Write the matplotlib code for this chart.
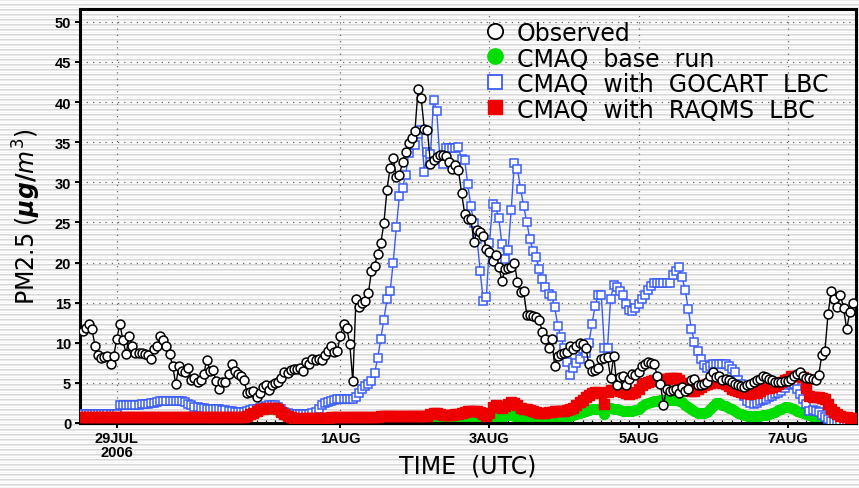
import numpy as np
import matplotlib
matplotlib.use('Agg')
import matplotlib.pyplot as plt
from matplotlib.ticker import MultipleLocator

# ---------------- data (hours since 29 JUL 2006 00 UTC) ----------------
obs_start = -11
observed = [
    11.5, 11.9, 12.3, 11.7, 9.6, 8.5, 8.1, 8.2, 8.3, 7.4, 8.3,
    10.5, 12.3, 10.3, 8.6, 10.9, 9.6, 8.7, 8.7, 8.7, 8.6, 8.5, 8.0,
    9.2, 9.6, 10.8, 10.3, 9.6, 8.6, 7.1, 4.8, 7.1, 6.5, 6.4, 6.8,
    5.4, 5.6, 5.1, 5.3, 6.1, 7.9, 6.5, 6.6, 5.2, 4.3, 5.1, 5.1,
    6.1, 7.3, 6.5, 6.1, 5.8, 5.3, 3.7, 3.9, 4.0, 3.2, 3.8, 4.5,
    4.7, 4.1, 4.7, 5.0, 5.1, 5.6, 6.3, 6.2, 6.6, 6.7, 6.7, 6.8,
    6.5, 7.6, 7.4, 8.0, 7.8, 8.0, 7.9, 8.5, 9.0, 9.6, 8.9, 9.0,
    10.9, 12.3, 11.9, 9.9, 5.2, 15.4, 14.5, 15.0, 15.2, 16.2, 18.9, 19.6,
    21.1, 22.4, 24.9, 29.1, 31.8, 33.0, 30.6, 30.9, 32.5, 33.8, 34.9, 35.5,
    36.4, 41.6, 40.5, 36.7, 36.5, 32.3, 32.8, 33.1, 33.4, 33.4, 33.3, 32.5,
    31.7, 32.1, 31.5, 28.7, 26.1, 25.4, 25.4, 22.6, 24.0, 23.8, 23.3, 21.7,
    21.3, 20.2, 20.9, 19.5, 17.7, 19.2, 19.3, 19.5, 20.0, 17.6, 16.3, 16.4,
    13.5, 13.4, 13.3, 13.2, 12.8, 11.4, 10.5, 9.3, 10.5, 7.1, 8.4, 8.6,
    8.7, 8.9, 9.6, 9.2, 9.6, 10.0, 9.9, 9.4, 7.3, 6.5, 6.6, 6.9,
    8.0, 8.1, 8.2, 5.6, 8.4, 4.7, 5.7, 5.8, 4.7, 5.5, 6.1, 6.0,
    6.4, 7.1, 7.4, 7.6, 7.5, 7.4, 5.9, 4.9, 2.3, 4.2, 4.0, 4.1,
    4.2, 3.8, 4.5, 4.0, 4.2, 5.3, 5.5, 4.7, 4.7, 4.9, 5.1, 5.9,
    6.3, 5.7, 5.9, 5.3, 5.5, 5.3, 5.1, 4.9, 4.7, 4.6, 4.5, 4.7,
    4.9, 5.1, 5.3, 5.5, 5.9, 5.7, 5.5, 5.3, 5.1, 5.1, 5.1, 5.2,
    5.2, 5.5, 5.8, 6.1, 6.3, 5.9, 5.6, 5.6, 5.5, 5.3, 6.0, 8.5,
    9.0, 13.6, 16.4, 15.5, 14.4, 16.0, 14.3, 11.7, 13.8, 15.0,
]

model_start = -12
base_run = [
    0.5, 0.5, 0.5, 0.5, 0.5, 0.5, 0.5, 0.5, 0.5, 0.5, 0.5, 0.5,
    0.5, 0.5, 0.5, 0.5, 0.5, 0.5, 0.5, 0.5, 0.5, 0.5, 0.5, 0.5,
    0.5, 0.5, 0.5, 0.5, 0.5, 0.5, 0.5, 0.5, 0.5, 0.5, 0.5, 0.5,
    0.5, 0.5, 0.5, 0.5, 0.5, 0.5, 0.5, 0.5, 0.5, 0.5, 0.5, 0.5,
    0.5, 0.5, 0.5, 0.5, 0.5,
    0.6, 0.8, 1.0, 1.2, 1.4, 1.6, 1.7, 1.8, 1.8, 1.8, 1.8, 1.6, 1.3, 1.0, 0.8, 0.6, 0.5,
    0.4, 0.4, 0.4, 0.4, 0.4, 0.4, 0.4, 0.4, 0.4, 0.4, 0.4, 0.4,
    0.4, 0.4, 0.4, 0.4, 0.4, 0.4, 0.4, 0.4, 0.4, 0.4, 0.4, 0.4,
    0.4, 0.4, 0.4, 0.4, 0.4, 0.4, 0.4, 0.4, 0.4, 0.4, 0.4, 0.4,
    0.4, 0.4, 0.4, 0.4, 0.4, 0.4,
    0.3, 0.3, 0.3, 0.3, 0.3, 0.3, 0.3, 0.3, 0.3, 0.3, 0.3,
    0.4, 0.4, 0.5, 0.5, 0.5, 0.5, 0.5, 0.5, 0.6, 0.7,
    0.8, 0.9, 0.9, 0.9, 0.9, 1.0, 1.0, 0.9, 0.9, 0.8, 0.8, 0.8, 0.8,
    0.7, 0.7, 0.7, 0.7, 0.7, 0.7, 0.7, 0.7, 0.8, 0.8, 0.8, 0.8, 0.9,
    1.0, 1.1, 1.3, 1.4, 1.5, 1.6, 1.7, 1.8, 1.8, 1.8,
    1.1,
    1.9, 1.9, 1.8, 1.7, 1.6, 1.5, 1.5, 1.5, 1.5, 1.6, 1.8, 2.1,
    2.4, 2.5, 2.6, 2.7, 2.8, 2.9, 2.9, 2.9, 2.9, 2.9, 2.9, 2.8, 2.6, 2.3, 2.0, 1.75, 1.5,
    1.3, 1.3, 1.3, 1.4, 1.7, 2.1, 2.5, 2.5, 2.3, 2.1, 1.9, 1.75, 1.5,
    1.3, 1.1, 1.0, 0.9, 0.9, 0.9, 0.9, 0.9, 1.0, 1.0, 1.1, 1.2, 1.4,
    1.6, 1.8, 2.0, 2.0, 1.9, 1.7, 1.5, 1.4, 1.3, 1.1, 1.0, 0.8, 0.6, 0.5,
    0.4, 0.3, 0.3, 0.3, 0.3, 0.3, 0.3, 0.3, 0.3, 0.3, 0.3,
]

gocart_lbc = [
    1.1, 1.1, 1.1, 1.1, 1.1, 1.1, 1.1, 1.1, 1.1, 1.1, 1.1, 1.1, 1.1,
    2.2, 2.3, 2.3, 2.3, 2.3, 2.3, 2.3, 2.4, 2.4, 2.4, 2.5, 2.5,
    2.6, 2.7, 2.7, 2.8, 2.8, 2.8, 2.8, 2.8, 2.7, 2.6, 2.4, 2.2,
    2.0, 2.0, 1.9, 1.9, 1.8, 1.8, 1.8, 1.7, 1.7, 1.6, 1.6, 1.5,
    1.5, 1.4, 1.4, 1.4, 1.4, 1.5, 1.6, 1.7, 1.8, 1.9, 2.0, 2.1,
    2.2, 2.2, 2.2, 2.0, 1.7, 1.4, 1.2, 1.1, 1.1, 1.1, 1.1, 1.1,
    1.1, 1.1, 1.2, 1.4, 1.8, 2.2, 2.5, 2.6, 2.8, 2.9, 3.0, 3.0,
    3.0, 3.0, 3.0, 3.0, 3.3, 3.8, 4.3, 4.6, 4.9, 5.2, 6.2, 8.1,
    10.5, 12.9, 15.4, 16.4, 20.0, 24.4, 28.3, 29.3, 30.9, 33.7, 34.8, 34.6,
    36.0, 36.5, 31.3, 33.8, 33.5, 40.3, 38.9, 33.1, 32.3, 34.3, 34.3, 34.3,
    34.3, 34.4, 32.9, 32.8, 29.8, 27.0, 24.9, 22.9, 18.9, 15.2, 15.7, 22.4,
    27.3, 26.9, 25.5, 22.3, 20.4, 21.6, 26.6, 32.4, 31.7, 29.2, 27.0, 25.1,
    22.9, 21.5, 20.7, 19.2, 17.9, 16.9, 16.1, 15.8, 14.4, 12.1, 10.7, 9.3,
    7.6, 6.0, 6.9, 7.5, 8.0, 9.2, 8.7, 10.0, 12.3, 14.6, 15.9, 15.9,
    9.3, 9.4, 15.5, 17.2, 16.9, 16.5, 15.9, 14.8, 14.1, 13.9, 14.3, 14.8,
    15.5, 16.0, 16.6, 17.1, 17.5, 17.5, 17.5, 17.5, 17.5, 17.5, 18.5, 19.0,
    19.4, 18.2, 16.6, 14.2, 11.7, 10.1, 9.0, 8.0, 7.2, 6.9, 7.1, 7.4,
    7.4, 7.4, 7.4, 7.3, 7.1, 6.7, 6.3, 5.3, 4.9, 3.4, 2.8, 2.5,
    2.4, 2.5, 2.7, 2.9, 3.0, 3.2, 3.4, 3.6, 3.8, 4.0, 4.4, 4.7,
    4.9, 4.9, 4.2, 3.6, 3.0, 2.4, 1.5, 1.6, 1.5, 1.4, 1.0, 0.8,
    0.5, 0.3, 0.1, 0.1, 0.1, 0.1, 0.1, 0.1, 0.1,
]

raqms_lbc = [
    0.7, 0.7, 0.7, 0.7, 0.7, 0.7, 0.7, 0.7, 0.7, 0.7, 0.7, 0.7,
    0.7, 0.7, 0.7, 0.7, 0.7, 0.7, 0.7, 0.7, 0.7, 0.7, 0.7, 0.7,
    0.7, 0.7, 0.7, 0.7, 0.7, 0.7, 0.7, 0.7, 0.7, 0.7, 0.7, 0.7,
    0.7, 0.7, 0.7, 0.7, 0.7, 0.7, 0.7, 0.7, 0.7, 0.7, 0.7, 0.7,
    0.7, 0.7, 0.7, 0.7, 0.7,
    0.8, 0.9, 1.1, 1.3, 1.5, 1.7, 1.8, 1.9, 1.9, 1.9, 1.9, 1.7, 1.4, 1.1, 0.9, 0.7, 0.6,
    0.55, 0.55, 0.6, 0.6, 0.6, 0.6, 0.6, 0.6, 0.65, 0.65, 0.65, 0.7, 0.7, 0.7,
    0.7, 0.75, 0.75, 0.75, 0.75, 0.8, 0.8, 0.8, 0.8, 0.8, 0.8, 0.8, 0.8,
    0.85, 0.85, 0.85, 0.85, 0.85, 0.85, 0.85, 0.85, 0.85, 0.85, 0.85, 0.85, 0.85, 0.85, 0.85,
    0.9,
    1.1, 1.3, 1.3, 1.1, 1.0, 1.0, 1.0, 1.05, 1.1, 1.1, 1.3, 1.4,
    1.5, 1.5, 1.5, 1.5, 1.4, 1.1, 0.9, 1.3, 2.0, 2.2, 2.0, 1.9,
    2.1, 2.4, 2.6, 2.5, 2.2, 1.9, 1.75, 1.7, 1.6, 1.5, 1.4, 1.3,
    1.3, 1.3, 1.4, 1.4, 1.5, 1.5, 1.5, 1.5, 1.6, 1.7, 1.9, 2.2,
    2.6, 2.9, 3.2, 3.5, 3.8, 3.9, 3.9, 3.8, 2.4, 3.9, 4.1, 4.1,
    4.1, 4.0, 3.9, 3.7, 3.6, 3.7, 3.9, 4.3, 4.7, 5.0, 5.1, 5.2,
    5.3, 5.4, 5.5, 5.5, 5.5, 5.6, 5.6, 5.6, 5.4, 5.0, 4.5, 4.1,
    4.0, 4.0, 4.2, 4.5, 4.7, 4.8, 5.0, 5.1, 5.1, 5.1, 5.0, 4.9,
    4.6, 4.3, 4.1, 4.0, 3.9, 3.8, 3.7, 3.6, 3.7, 3.8, 4.0, 4.2,
    4.4, 4.4, 4.5, 4.6, 4.9, 5.1, 5.3, 5.5, 5.8, 5.9, 5.9, 5.8,
    5.7, 4.4, 3.4, 3.2, 3.2, 3.2, 3.1, 3.0, 2.4, 1.75, 1.4, 1.1,
    0.9, 0.8, 0.7, 0.6, 0.6,
]

tick_hours = [0, 72, 120, 168, 216]
tick_labels = ['29JUL\n2006', '1AUG', '3AUG', '5AUG', '7AUG']
y_ticks = [0, 5, 10, 15, 20, 25, 30, 35, 40, 45, 50]
legend_labels = ['Observed', 'CMAQ  base  run', 'CMAQ  with  GOCART  LBC', 'CMAQ  with  RAQMS  LBC']

# ---------------- figure ----------------
W, H = 859, 489
fig = plt.figure(figsize=(W / 100, H / 100), dpi=100, facecolor='white')

# striped background (as in the source image)
bg = fig.add_axes([0, 0, 1, 1], zorder=-10)
pattern = np.array([0.84, 0.91, 1.0, 0.96, 1.0])
stripes = np.tile(pattern, H // len(pattern) + 1)[:H]
bg.imshow(stripes[:, None], cmap='gray', vmin=0, vmax=1, aspect='auto',
          interpolation='nearest', extent=[0, 1, 0, 1])
bg.axis('off')

ax = fig.add_axes([79.5 / W, (H - 424) / H, 776.5 / W, 414 / H])
ax.set_facecolor('none')

h_obs = obs_start + np.arange(len(observed))
h_base = model_start + np.arange(len(base_run))
h_goc = model_start + np.arange(len(gocart_lbc))
h_raq = model_start + np.arange(len(raqms_lbc))

green = '#00dd00'
blue = '#3a5cf5'
red = '#ee0000'

ax.plot(h_base, base_run, '-o', color=green, mec=green, mfc=green, ms=7, lw=1, zorder=2)
ax.plot(h_goc, gocart_lbc, '-s', color=blue, mec=blue, mfc='white', ms=5.6, mew=1.1, lw=1, zorder=3)
ax.plot(h_raq, raqms_lbc, '-s', color=red, mec=red, mfc=red, ms=7.4, lw=1, zorder=4)
ax.plot(h_obs, observed, '-o', color='black', mec='black', mfc='white', ms=6.4, mew=1.1, lw=1, zorder=5)

ax.set_xlim(-12, 238)
ax.set_ylim(0, 51.6)
ax.set_yticks(y_ticks)
ax.set_xticks(tick_hours)
ax.set_xticklabels(tick_labels, linespacing=0.95)
ax.xaxis.set_minor_locator(MultipleLocator(3))
for lab in ax.get_xticklabels() + ax.get_yticklabels():
    lab.set_fontfamily('Liberation Sans')
    lab.set_fontweight('bold')
    lab.set_fontsize(10.5)
ax.tick_params(axis='both', which='major', direction='out', length=3.5, width=1.4, pad=2.5, color='black')
ax.tick_params(axis='x', which='minor', direction='in', length=2, width=0.9)
for s in ax.spines.values():
    s.set_linewidth(2.2)
ax.grid(True, which='major', color='#666666', linestyle=(0, (1, 4)), linewidth=0.9)
ax.set_axisbelow(True)

# axis titles
fig.text(468 / W, 1 - 467 / H, 'TIME  (UTC)', ha='center', va='center', fontsize=17,
         family='DejaVu Sans')
fig.text(27 / W, 1 - 217 / H, r'PM2.5 ($\boldsymbol{\mu g/m^3}$)', ha='center', va='center',
         rotation=90, fontsize=17, family='DejaVu Sans')

# legend (manual, no frame)
styles = [
    dict(marker='o', mfc='white', mec='black', ms=11, mew=1.3),
    dict(marker='o', mfc=green, mec=green, ms=11),
    dict(marker='s', mfc='white', mec=blue, ms=10.5, mew=1.3),
    dict(marker='s', mfc=red, mec=red, ms=10.5),
]
row_y = [0.9476, 0.8857, 0.8244, 0.7626]
for lab, st, yy in zip(legend_labels, styles, row_y):
    ax.plot([0.5351], [yy], linestyle='none', transform=ax.transAxes, clip_on=False, zorder=6, **st)
    ax.text(0.5634, yy, lab, transform=ax.transAxes, ha='left', va='center_baseline',
            fontsize=17, family='DejaVu Sans', zorder=6)

fig.savefig('out.png', dpi=100, facecolor='white')
